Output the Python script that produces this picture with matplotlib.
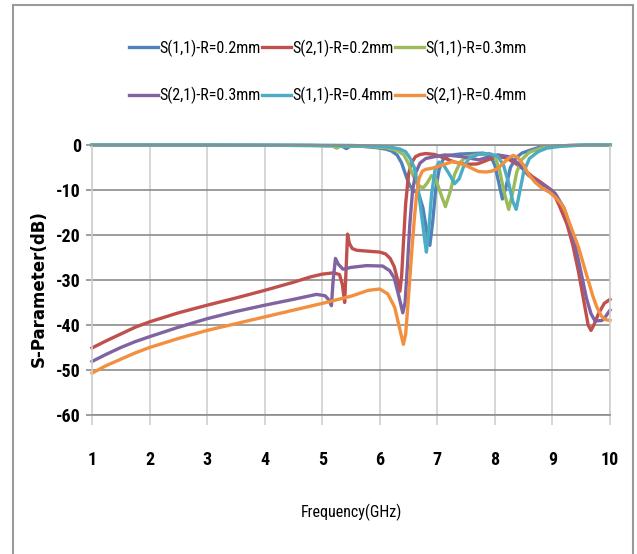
import matplotlib
matplotlib.use("Agg")
import matplotlib.pyplot as plt
from matplotlib import font_manager as fm
from matplotlib.patches import Rectangle

# narrow font like the original (Calibri) - take what the machine has
fonts = {(f.name, f.stretch) for f in fm.fontManager.ttflist}
names = {f[0] for f in fonts}
narrow = 'DejaVu Sans'
stretch = 'normal'
size_fix = 0.82
for cand in ['Liberation Sans Narrow', 'Roboto Condensed', 'Open Sans Condensed', 'Noto Sans Condensed']:
    if cand in names:
        narrow = cand
        size_fix = 1.0
        break
else:
    if ('DejaVu Sans', 'condensed') in fonts or ('DejaVu Sans', 'semi-condensed') in fonts:
        stretch = 'condensed'
        size_fix = 0.92
    elif 'Roboto' in names:
        narrow = 'Roboto'
        size_fix = 0.9

plt.rcParams['font.family'] = [narrow, 'DejaVu Sans']
plt.rcParams['font.stretch'] = stretch
plt.rcParams['axes.unicode_minus'] = False

# S(1,1) R=0.2mm
f_s11_02 = [1.0, 2.0, 3.0, 4.0, 4.8, 5.2, 5.35, 5.42, 5.48, 5.7, 5.95, 6.1, 6.2, 6.3,
            6.38, 6.46, 6.52, 6.6, 6.68, 6.75, 6.82, 6.87, 6.92, 6.97, 7.03, 7.1, 7.2,
            7.4, 7.6, 7.8, 7.92, 8.0, 8.07, 8.13, 8.19, 8.27, 8.37, 8.47, 8.6, 8.75,
            9.0, 9.3, 9.6, 10.0]
s11_02 = [0, 0, 0, -0.05, -0.1, -0.2, -0.3, -0.8, -0.3, -0.3, -0.6, -0.9, -1.3, -2.2,
          -4.0, -7.0, -9.0, -10.2, -11.0, -14.0, -19.5, -22.3, -17.0, -10.0, -5.5, -3.2, -2.3,
          -2.0, -1.9, -1.8, -2.3, -4.5, -8.5, -12.0, -9.5, -5.0, -2.8, -1.8, -1.2, -0.6,
          -0.3, -0.1, 0, 0]

# S(2,1) R=0.2mm
f_s21_02 = [1.0, 1.25, 1.5, 1.75, 2.0, 2.5, 3.0, 3.5, 4.0, 4.5, 4.8, 5.0, 5.2, 5.3, 5.35,
            5.39, 5.42, 5.44, 5.47, 5.52, 5.6, 5.8, 6.0, 6.1, 6.18, 6.25, 6.3, 6.35, 6.38,
            6.41, 6.45, 6.5, 6.55, 6.62, 6.7, 6.8, 6.95, 7.1, 7.3, 7.5, 7.7, 7.9, 8.05,
            8.2, 8.35, 8.5, 8.65, 8.8, 9.0, 9.12, 9.25, 9.35, 9.45, 9.55, 9.62, 9.67,
            9.72, 9.8, 9.9, 10.0]
s21_02 = [-45.1, -43.5, -42.0, -40.5, -39.3, -37.3, -35.6, -34.0, -32.3, -30.5, -29.3,
          -28.7, -28.4, -28.8, -31.0, -35.0, -26.0, -19.8, -21.8, -23.0, -23.4, -23.6, -23.8,
          -24.2, -25.2, -27.0, -29.5, -32.5, -29.0, -22.0, -13.0, -6.5, -4.0, -2.6, -2.1,
          -1.9, -2.1, -2.8, -3.8, -4.3, -4.2, -3.2, -2.6, -2.9, -4.0, -5.4, -7.0, -8.3,
          -10.2, -13.5, -17.5, -22.0, -28.0, -35.0, -40.0, -41.2, -40.0, -37.5, -35.2, -34.3]

# S(1,1) R=0.3mm
f_s11_03 = [1.0, 4.0, 5.0, 5.18, 5.25, 5.32, 5.8, 6.1, 6.3, 6.42, 6.5, 6.58, 6.66, 6.75,
            6.82, 6.9, 6.97, 7.05, 7.14, 7.22, 7.3, 7.4, 7.5, 7.7, 7.9, 8.0, 8.08, 8.16,
            8.24, 8.31, 8.38, 8.47, 8.6, 8.8, 9.0, 9.3, 10.0]
s11_03 = [0, -0.05, -0.15, -0.2, -0.7, -0.2, -0.3, -0.6, -1.2, -2.2, -4.2, -6.8, -8.8, -9.6,
          -8.5, -6.8, -7.5, -10.5, -13.7, -10.5, -6.5, -3.8, -2.7, -2.1, -2.0, -2.6, -5.5,
          -10.5, -14.3, -10.5, -6.0, -3.2, -1.6, -0.7, -0.3, -0.1, 0]

# S(2,1) R=0.3mm
f_s21_03 = [1.0, 1.25, 1.5, 1.75, 2.0, 2.5, 3.0, 3.5, 4.0, 4.5, 4.9, 5.05, 5.12, 5.16,
            5.19, 5.23, 5.28, 5.36, 5.5, 5.77, 6.05, 6.17, 6.25, 6.32, 6.4, 6.44, 6.48,
            6.52, 6.57, 6.63, 6.7, 6.8, 6.95, 7.14, 7.43, 7.72, 7.9, 8.05, 8.24, 8.41,
            8.58, 8.75, 8.9, 9.05, 9.2, 9.3, 9.39, 9.5, 9.59, 9.67, 9.74, 9.86, 9.93, 10.0]
s21_03 = [-48.1, -46.5, -45.0, -43.7, -42.6, -40.5, -38.6, -37.0, -35.6, -34.3, -33.2,
          -33.5, -34.5, -35.7, -30.0, -25.2, -26.5, -27.6, -27.2, -26.8, -26.9, -27.9, -29.5,
          -33.0, -37.3, -35.0, -27.0, -18.0, -10.0, -6.0, -4.0, -3.0, -2.6, -2.2, -2.6,
          -3.3, -2.6, -2.2, -2.6, -4.1, -6.7, -8.3, -9.3, -10.8, -14.0, -18.0, -22.0,
          -28.5, -34.0, -37.5, -39.1, -39.0, -38.0, -36.7]

# S(1,1) R=0.4mm
f_s11_04 = [1.0, 5.0, 5.5, 6.0, 6.2, 6.35, 6.45, 6.52, 6.6, 6.66, 6.72, 6.78, 6.81, 6.85,
            6.9, 6.96, 7.03, 7.1, 7.2, 7.3, 7.38, 7.45, 7.55, 7.7, 7.9, 8.05, 8.15, 8.24,
            8.31, 8.37, 8.43, 8.5, 8.6, 8.75, 8.9, 9.2, 9.6, 10.0]
s11_04 = [0, -0.05, -0.1, -0.3, -0.5, -0.9, -1.5, -2.8, -5.0, -9.0, -15.0, -21.0, -23.8,
          -19.0, -11.0, -5.5, -3.8, -4.3, -6.3, -8.6, -7.5, -5.0, -3.0, -2.1, -1.9, -2.5,
          -4.5, -8.5, -12.5, -14.3, -10.5, -6.0, -3.0, -1.5, -0.7, -0.2, 0, 0]

# S(2,1) R=0.4mm
f_s21_04 = [1.0, 1.25, 1.5, 1.75, 2.0, 2.5, 3.0, 3.5, 4.0, 4.5, 5.0, 5.5, 5.8, 6.0, 6.14,
            6.26, 6.34, 6.41, 6.45, 6.48, 6.52, 6.56, 6.6, 6.64, 6.68, 6.74, 6.8, 6.9, 7.0,
            7.15, 7.26, 7.38, 7.49, 7.6, 7.72, 7.85, 7.95, 8.05, 8.15, 8.25, 8.32, 8.4,
            8.5, 8.59, 8.7, 8.82, 8.95, 9.05, 9.15, 9.22, 9.3, 9.45, 9.55, 9.62, 9.7, 9.77,
            9.85, 9.92, 10.0]
s21_04 = [-50.7, -49.0, -47.6, -46.2, -45.0, -43.0, -41.2, -39.7, -38.2, -36.7, -35.2,
          -33.6, -32.3, -32.0, -33.1, -36.1, -40.5, -44.3, -42.0, -37.0, -30.0, -23.0, -16.5,
          -11.0, -7.5, -5.8, -5.4, -5.2, -4.8, -4.2, -3.7, -4.0, -4.5, -5.2, -5.9, -6.0,
          -5.8, -5.2, -4.0, -2.8, -2.3, -2.8, -4.5, -6.6, -8.3, -9.6, -10.5, -11.6, -13.0,
          -14.6, -17.5, -22.6, -27.0, -30.0, -33.5, -36.0, -38.0, -38.8, -39.0]

series = [
    (f_s11_02, s11_02, 'S(1,1)-R=0.2mm', '#4F81BD'),
    (f_s21_02, s21_02, 'S(2,1)-R=0.2mm', '#C0504D'),
    (f_s11_03, s11_03, 'S(1,1)-R=0.3mm', '#9BBB59'),
    (f_s21_03, s21_03, 'S(2,1)-R=0.3mm', '#8064A2'),
    (f_s11_04, s11_04, 'S(1,1)-R=0.4mm', '#4BACC6'),
    (f_s21_04, s21_04, 'S(2,1)-R=0.4mm', '#F3903F'),
]

fig = plt.figure(figsize=(6.37, 5.54), dpi=100)
ax = fig.add_axes([92 / 637, 1 - 415 / 554, 518 / 637, 270 / 554])

handles = []
for f, s, lab, col in series:
    h, = ax.plot(f, s, color=col, lw=2.4, label=lab, clip_on=False, solid_joinstyle='round')
    handles.append(h)

ax.set_xlim(1, 10)
ax.set_ylim(-60, 0)
ax.set_xticks(range(1, 11))
ax.set_yticks(range(-60, 1, 10))

# gridlines: horizontal dark, vertical light
ax.yaxis.grid(True, color='#8c8c8c', lw=1.2)
ax.xaxis.grid(True, color='#cfcfcf', lw=1.2)
ax.set_axisbelow(True)
for side in ['top', 'bottom']:
    ax.spines[side].set_color('#8c8c8c')
    ax.spines[side].set_linewidth(1.2)
for side in ['left', 'right']:
    ax.spines[side].set_color('#cfcfcf')
    ax.spines[side].set_linewidth(1.2)

ax.tick_params(axis='y', direction='out', length=4, width=1.2, color='#8c8c8c',
               pad=4, labelsize=13 * size_fix)
ax.tick_params(axis='x', direction='out', length=7, width=1.2, color='#cfcfcf',
               pad=19, labelsize=13 * size_fix)
for lbl in ax.get_xticklabels() + ax.get_yticklabels():
    lbl.set_fontweight('bold')

ax.set_xlabel('Frequency(GHz)', fontsize=11.5 * size_fix)
ax.xaxis.set_label_coords(0.5, -0.33)
ax.set_ylabel('S-Parameter(dB)', fontsize=12, fontweight='bold', family='DejaVu Sans',
              fontstretch='normal')
ax.yaxis.set_label_coords(-0.085, 0.47)

# legend filled row by row as in the original
order = [0, 3, 1, 4, 2, 5]
fig.legend([handles[i] for i in order], [series[i][2] for i in order],
           loc='center', bbox_to_anchor=(0.515, 1 - 72 / 554), ncol=3, frameon=False,
           fontsize=11.5 * size_fix, handlelength=1.8, handletextpad=0.1, columnspacing=0.1,
           labelspacing=1.9)

# border around the chart
fig.patches.append(Rectangle((13 / 637, -0.02), 620 / 637, 1 - 5 / 554 + 0.02,
                             transform=fig.transFigure, fill=False,
                             edgecolor='#9a9a9a', lw=1.5))

fig.savefig('out.png', dpi=100)
